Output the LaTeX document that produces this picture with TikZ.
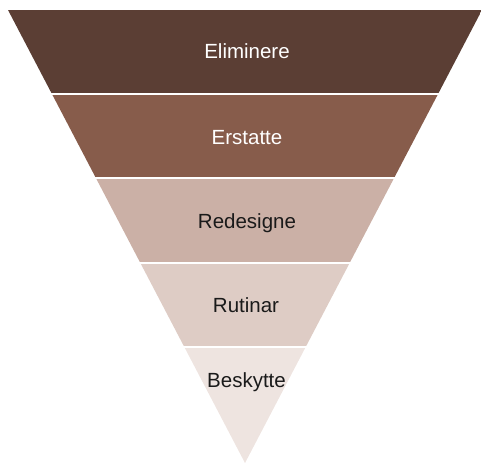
\documentclass[tikz,border=0pt]{standalone}
\usepackage{fontspec}
\setmainfont{Liberation Sans}
\definecolor{bandA}{HTML}{5B3E34}
\definecolor{bandB}{HTML}{875C4B}
\definecolor{bandC}{HTML}{CBB0A6}
\definecolor{bandD}{HTML}{DECCC5}
\definecolor{bandE}{HTML}{EEE4E0}
\definecolor{darktext}{HTML}{1A1A1A}
\begin{document}
\begin{tikzpicture}[x=1pt,y=-1pt,
  lbl/.style={anchor=base,font=\fontsize{20.5}{23}\selectfont,inner sep=0pt},
  lightlbl/.style={lbl,text=white},
  darklbl/.style={lbl,text=darktext}]
\useasboundingbox (0,0) rectangle (481,463);
\begin{scope}
\clip (8,10) -- (482,10) -- (245,463) -- cycle;
\fill[bandA] (0,10) rectangle (481,92.5);
\fill[bandB] (0,94.5) rectangle (481,177);
\fill[bandC] (0,179) rectangle (481,261.5);
\fill[bandD] (0,263.5) rectangle (481,346);
\fill[bandE] (0,348) rectangle (481,463);
\end{scope}
\node[lightlbl] (elim) at (247,58) {Eliminere};
\node[lightlbl] (erst) at (247,144) {Erstatte};
\node[darklbl] (rede) at (247,228) {Redesigne};
\node[darklbl] (rut) at (246,312) {Rutinar};
\node[darklbl] (besk) at (246.5,387) {Beskytte};
\end{tikzpicture}
\end{document}
